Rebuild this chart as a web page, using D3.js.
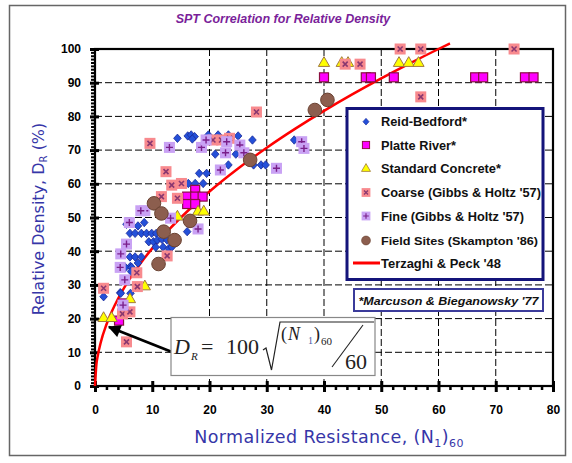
<!DOCTYPE html>
<html><head><meta charset="utf-8">
<script src="https://cdn.jsdelivr.net/npm/d3@7"></script>
<style>body{margin:0;background:#fff}svg{display:block}</style>
</head><body>
<svg id="chart" width="572" height="463"></svg>
<script>
// ---- data: [ (N1)60 , Dr % ] ----
const reidBedford = [
  [14.4,73.5],[16.2,74.2],[16.8,74.5],[17.4,74],[17.0,73.3],[19.8,74.5],[21.5,74.5],[23.3,74.5],[25,74.2],
  [27.5,73],[34.8,73],[21,68.8],[24.6,68.8],[23.3,65.6],[27.7,65.6],[29.0,65.6],[29.8,65.6],
  [18.2,63.1],[19.5,63.1],[16.3,60.1],[17.5,60.1],[18.9,60.1],[16.1,45.8],
  [5.5,48],[6.1,45.3],[7.0,45.3],[8.1,45.3],[9.0,45.3],[9.9,45.3],[10.7,45.3],[7.5,47.5],[8.6,48.5],
  [9.4,42.8],[10.2,42.8],[10.9,43.3],[11.7,43.5],[12.6,43.3],[10.6,41.2],[11.9,41.2],[12.9,40.8],[13.4,41.2],
  [6.1,38.3],[7.0,38.3],[8.1,38.3],[7.5,36.5],[6.2,35.5],[4.3,35.2],[5.3,35.2],[6.4,35.2],[6.3,34],
  [4.4,27.7],[1.5,26.5],[4.5,27.5],[6.2,27.5],[4.5,24]
];
const platteRiver = [
  [40,91.6],[47.3,91.6],[48.2,91.6],[52.2,91.6],[66.4,91.6],[67.8,91.6],[75.1,91.6],[76.6,91.6],
  [17.5,58.2],[16.1,56.2],[17.5,56.2],[18.8,56.2],[16.1,54],[17.5,54],[4.2,19.4],[4.9,24.5]
];
const standardConcrete = [
  [40,95.8],[43.1,95.8],[44.2,95.8],[53.1,95.8],[54.8,95.8],[56.5,95.8],
  [14.4,50.2],[18,51.7],[19,51.7],[8.7,29.5],[6.1,25.7],[1.5,20.1],[2.9,20.1]
];
const coarseGibbsHoltz = [
  [53.3,100],[56.9,100],[73.2,100],[43.7,95.5],[46.3,95.5],[28.2,81.3],[56.9,85.8],[9.6,72],[12.4,63.6],
  [20.6,73],[22.1,73],[23.5,73.5],[13.4,59.6],[15.1,60.1],[11.6,56.2],[14.4,55.7],[12.6,38.6],
  [7.3,33.6],[7.4,29.5],[1.5,29],[4.8,21.4],[6.1,22],[5.5,13.1]
];
const fineGibbsHoltz = [
  [13,70.8],[18.6,70.8],[19.4,73],[23,72.5],[22.8,69.2],[25.3,71.5],[26,69.2],[21.9,64.1],[31.7,64.6],
  [36.1,72.5],[36.5,70.5],[8.7,52],[8,52],[6,48.5],[13.2,49.8],[18,46.6],[5.5,42.1],[4.5,39.2],
  [4.4,35.2],[5.2,31.5],[4.9,24]
];
const fieldSites = [
  [40.6,84.9],[38.4,81.9],[27.1,67.1],[10.3,54.2],[11.6,51.2],[12,45.8],[13.9,43.3],[16.6,49],[11.1,36.2]
];
// Terzaghi & Peck (1948): Dr = 100 * sqrt(N / 60)
const curveN = [0,0.25,0.5,1,2,3,4,6,8,10,13,16,20,25,30,35,40,45,50,55,60,62];
const xTicks = [0,10,20,30,40,50,60,70,80];
const yTicks = [0,10,20,30,40,50,60,70,80,90,100];
const xGrid = [20,30,40,50,60,70];
const yGrid = [10,20,30,40,50,60,70,80,90];

const svg = d3.select("#chart");
const x = d3.scaleLinear().domain([0,80]).range([95,553]);
const y = d3.scaleLinear().domain([0,100]).range([386,49]);

// figure frame
svg.append("rect").attr("x",9.5).attr("y",5.5).attr("width",556).attr("height",450)
  .attr("fill","#fff").attr("stroke","#666").attr("stroke-width",1.5);

// title
svg.append("text").attr("x",283).attr("y",23).attr("text-anchor","middle")
  .attr("font-family","Liberation Sans, Arial, sans-serif").attr("font-weight","bold")
  .attr("font-style","italic").attr("font-size",12.5).attr("fill","#7a1f9a")
  .text("SPT Correlation for Relative Density");

// plot area
svg.append("rect").attr("x",x(0)).attr("y",y(100)).attr("width",x(80)-x(0)).attr("height",y(0)-y(100))
  .attr("fill","#fff");

// dashed grid
const grid = svg.append("g").attr("stroke","#000").attr("stroke-width",1).attr("stroke-dasharray","7,3");
grid.selectAll("line.h").data(yGrid).join("line").attr("class","h")
  .attr("x1",x(0)).attr("x2",x(80)).attr("y1",d=>y(d)).attr("y2",d=>y(d));
grid.selectAll("line.v").data(xGrid).join("line").attr("class","v")
  .attr("x1",d=>x(d)).attr("x2",d=>x(d)).attr("y1",y(0)).attr("y2",y(100));

// minor ticks
const minorY = d3.range(1,100).filter(d=>d%10!==0);
const minorX = d3.range(2,80,2).filter(d=>d%10!==0);
svg.append("g").attr("transform",`translate(${x(0)},0)`)
  .call(d3.axisLeft(y).tickValues(minorY).tickSize(4).tickFormat(""))
  .call(g=>{g.select(".domain").remove();g.selectAll("line").attr("stroke-width",2);});
svg.append("g").attr("transform",`translate(0,${y(0)})`)
  .call(d3.axisBottom(x).tickValues(minorX).tickSize(4).tickFormat(""))
  .call(g=>{g.select(".domain").remove();g.selectAll("line").attr("stroke-width",2.5);});

// major ticks + labels
const tickFont = g=>g.selectAll("text").attr("font-family","Liberation Sans, Arial, sans-serif")
  .attr("font-weight","bold").attr("font-size",12).attr("fill","#000");
svg.append("g").attr("transform",`translate(${x(0)},0)`)
  .call(d3.axisLeft(y).tickValues(yTicks).tickSize(5).tickPadding(9).tickFormat(d3.format("d")))
  .call(g=>{g.select(".domain").remove();g.selectAll("line").attr("stroke-width",3).attr("x2",4).attr("x1",-5);})
  .call(tickFont);
svg.append("g").attr("transform",`translate(0,${y(0)})`)
  .call(d3.axisBottom(x).tickValues(xTicks).tickSize(6).tickPadding(13).tickFormat(d3.format("d")))
  .call(g=>{g.select(".domain").remove();g.selectAll("line").attr("stroke-width",3).attr("y1",-5).attr("y2",6);})
  .call(tickFont);

// plot border
svg.append("rect").attr("x",x(0)).attr("y",y(100)).attr("width",x(80)-x(0)).attr("height",y(0)-y(100))
  .attr("fill","none").attr("stroke","#000").attr("stroke-width",2.2);

// Terzaghi & Peck curve
const line = d3.line().x(d=>x(d)).y(d=>y(100*Math.sqrt(d/60))).curve(d3.curveMonotoneX);
svg.append("path").datum(curveN).attr("d",line).attr("fill","none").attr("stroke","#ff0000").attr("stroke-width",2.5);

// marker painters
function drawDiamond(g){
  g.append("path").attr("d","M0,-4.2L3.8,0L0,4.2L-3.8,0Z").attr("fill","#2450d8").attr("stroke","#1a2a99").attr("stroke-width",0.8);
}
function drawPlatte(g){
  g.append("rect").attr("x",-4.5).attr("y",-4.5).attr("width",9).attr("height",9)
    .attr("fill","#ff00ff").attr("stroke","#8a1040").attr("stroke-width",1.2);
}
function drawTriangle(g){
  g.append("path").attr("d",d3.symbol(d3.symbolTriangle,55)()).attr("fill","#ffff00").attr("stroke","#a07840").attr("stroke-width",1);
}
function drawCoarse(g){
  g.append("rect").attr("x",-5.5).attr("y",-5.5).attr("width",11).attr("height",11).attr("fill","#f88a8e");
  g.append("path").attr("d","M-2.5,-2.5L2.5,2.5M2.5,-2.5L-2.5,2.5").attr("stroke","#8a3870").attr("stroke-width",1.6);
}
function drawFine(g){
  g.append("rect").attr("x",-5.5).attr("y",-5.5).attr("width",11).attr("height",11).attr("fill","#c9a2f4");
  g.append("path").attr("d","M0,-3.5V3.5M-3.5,0H3.5").attr("stroke","#7a1f8a").attr("stroke-width",1.4);
}
function drawField(g){
  g.append("circle").attr("r",6.8).attr("fill","#8c5e4e").attr("stroke","#6a4232").attr("stroke-width",1);
}

const series = [
  {data:reidBedford, draw:drawDiamond, label:"Reid-Bedford*"},
  {data:platteRiver, draw:drawPlatte, label:"Platte River*"},
  {data:standardConcrete, draw:drawTriangle, label:"Standard Concrete*"},
  {data:coarseGibbsHoltz, draw:drawCoarse, label:"Coarse (Gibbs & Holtz '57)"},
  {data:fineGibbsHoltz, draw:drawFine, label:"Fine (Gibbs & Holtz '57)"},
  {data:fieldSites, draw:drawField, label:"Field Sites (Skampton '86)"}
];
series.forEach(s=>{
  svg.append("g").selectAll("g").data(s.data).join("g")
    .attr("transform",d=>`translate(${x(d[0])},${y(d[1])})`)
    .each(function(){ s.draw(d3.select(this)); });
});

// legend
const lg = svg.append("g");
lg.append("rect").attr("x",347).attr("y",108.5).attr("width",196).attr("height",171)
  .attr("fill","#fff").attr("stroke","#14147a").attr("stroke-width",3);
const rowsY = [121.7,145,168.8,192.5,216,240.5,263];
const widths = [86,75,120,160,143,157];
const legendScale = [0.8,0.8,0.8,0.8,0.8,0.65];
series.forEach((s,i)=>{
  const g = lg.append("g").attr("transform",`translate(366,${rowsY[i]}) scale(${legendScale[i]})`);
  s.draw(g);
  lg.append("text").attr("x",381).attr("y",rowsY[i]+4.5)
    .attr("font-family","Liberation Sans, Arial, sans-serif").attr("font-weight","bold")
    .attr("font-size",i===5?11:12.5).attr("fill","#111")
    .attr("textLength",widths[i]).attr("lengthAdjust","spacingAndGlyphs").text(s.label);
});
lg.append("line").attr("x1",353).attr("x2",380).attr("y1",rowsY[6]).attr("y2",rowsY[6])
  .attr("stroke","#ff0000").attr("stroke-width",3);
lg.append("text").attr("x",381).attr("y",rowsY[6]+4.5)
  .attr("font-family","Liberation Sans, Arial, sans-serif").attr("font-weight","bold")
  .attr("font-size",12.5).attr("fill","#111").attr("textLength",120).attr("lengthAdjust","spacingAndGlyphs")
  .text("Terzaghi & Peck '48");

// footnote box
svg.append("rect").attr("x",354).attr("y",289).attr("width",189).attr("height",22)
  .attr("fill","#fff").attr("stroke","#3b3b9a").attr("stroke-width",2);
svg.append("text").attr("x",448.5).attr("y",304.5).attr("text-anchor","middle")
  .attr("font-family","Liberation Sans, Arial, sans-serif").attr("font-weight","bold").attr("font-style","italic")
  .attr("font-size",11).attr("fill","#111").attr("textLength",180).attr("lengthAdjust","spacingAndGlyphs")
  .text("*Marcuson & Bieganowsky '77");

// equation box with arrow
svg.append("defs").append("marker").attr("id","ah").attr("viewBox","0 0 10 10").attr("refX",9).attr("refY",5)
  .attr("markerWidth",5).attr("markerHeight",4.5).attr("orient","auto")
  .append("path").attr("d","M0,0L10,5L0,10Z").attr("fill","#000");
svg.append("line").attr("x1",172).attr("y1",352).attr("x2",109).attr("y2",327)
  .attr("stroke","#000").attr("stroke-width",2.8).attr("marker-end","url(#ah)");
svg.append("rect").attr("x",171).attr("y",317.5).attr("width",204).attr("height",58)
  .attr("fill","#fff").attr("stroke","#888").attr("stroke-width",1.2);
const eq = svg.append("g").attr("font-family","Liberation Serif, Times New Roman, serif").attr("fill","#222");
eq.append("text").attr("x",174).attr("y",354).attr("font-size",22).attr("font-style","italic").text("D");
eq.append("text").attr("x",191).attr("y",360).attr("font-size",11).attr("font-style","italic").text("R");
eq.append("text").attr("x",201).attr("y",354).attr("font-size",22).text("=");
eq.append("text").attr("x",226).attr("y",354).attr("font-size",22).text("100");
eq.append("path").attr("d","M263,350L266,348L271.5,370L280,322H374").attr("fill","none").attr("stroke","#222").attr("stroke-width",1.2);
eq.append("text").attr("x",281).attr("y",340).attr("font-size",18).text("(");
eq.append("text").attr("x",288).attr("y",340).attr("font-size",18).attr("font-style","italic").text("N");
eq.append("text").attr("x",308).attr("y",344).attr("font-size",10).attr("fill","#4a5aa8").text("1");
eq.append("text").attr("x",314).attr("y",340).attr("font-size",18).text(")");
eq.append("text").attr("x",321).attr("y",345).attr("font-size",11).text("60");
eq.append("line").attr("x1",332).attr("y1",367).attr("x2",363).attr("y2",325).attr("stroke","#222").attr("stroke-width",1.1);
eq.append("text").attr("x",345).attr("y",369).attr("font-size",22).text("60");

// axis titles
const titleFont = "DejaVu Sans, Noto Sans, sans-serif";
const xt = svg.append("text").attr("x",329).attr("y",443).attr("text-anchor","middle")
  .attr("font-family",titleFont).attr("font-size",17.5).attr("letter-spacing",0.4).attr("fill","#3636a8");
xt.append("tspan").text("Normalized Resistance, (N");
xt.append("tspan").attr("font-size",11).attr("dy",4).text("1");
xt.append("tspan").attr("dy",-4).text(")");
xt.append("tspan").attr("font-size",11).attr("dy",4).text("60");
const yt = svg.append("text").attr("transform","translate(44,219) rotate(-90)").attr("text-anchor","middle")
  .attr("font-family",titleFont).attr("font-size",16).attr("fill","#3636a8");
yt.append("tspan").text("Relative Density, D");
yt.append("tspan").attr("font-size",10).attr("dy",3).text("R");
yt.append("tspan").attr("dy",-3).text(" (%)");
</script>
</body></html>
